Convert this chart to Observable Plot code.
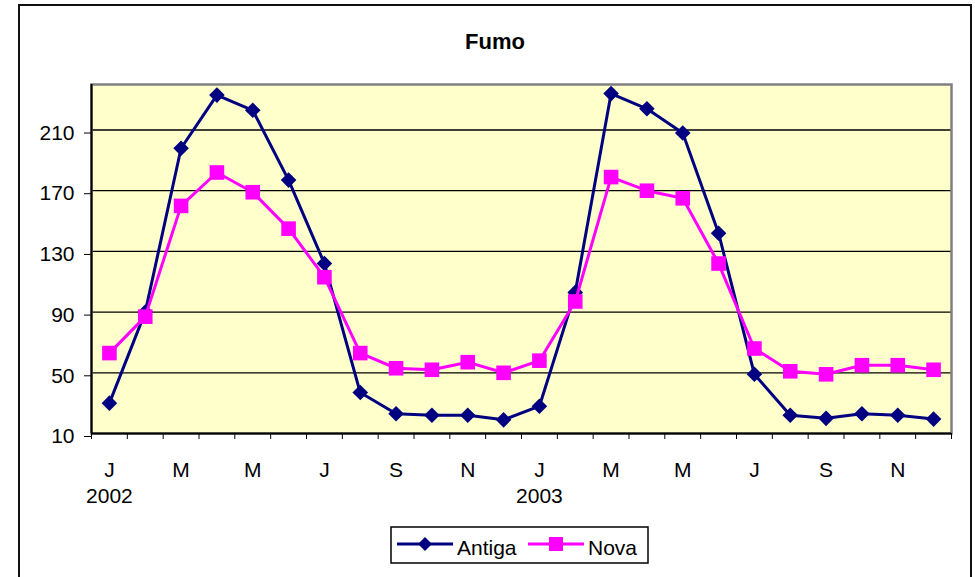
<!DOCTYPE html>
<html>
<head>
<meta charset="utf-8">
<script src="https://cdn.jsdelivr.net/npm/d3@7"></script>
<script src="https://cdn.jsdelivr.net/npm/@observablehq/plot@0.6"></script>
<style>
  html, body { margin: 0; padding: 0; background: #fff; }
  #wrap { position: relative; width: 975px; height: 577px; overflow: hidden; font-family: "Liberation Sans", Arial, sans-serif; }
  #wrap > svg { position: absolute; left: 0; top: 0; }
  #overlay { pointer-events: none; }
</style>
</head>
<body>
<div id="wrap"></div>
<script>
// ---- data ----
const title = "Fumo";
const monthLetters = ["J","F","M","A","M","J","J","A","S","O","N","D"];
const years = ["2002", "2003"];
const seriesNames = ["Antiga", "Nova"];
const seriesColors = ["#000080", "#FF00FF"];
const antiga = [30, 90, 198, 233, 223, 177, 122, 37, 23, 22, 22, 19,
                28, 103, 234, 224, 208, 142, 49, 22, 20, 23, 22, 19.5];
const nova   = [63, 87, 160, 182, 169, 145, 113, 63, 53, 52, 57, 50,
                58, 97, 179, 170, 165, 122, 66, 51, 49, 55, 55, 52];
const yTicks = [10, 50, 90, 130, 170, 210];

// ---- derived ----
const nMonths = antiga.length;
const idx = d3.range(nMonths);
const rowsA = antiga.map((v, i) => ({i, v}));
const rowsN = nova.map((v, i) => ({i, v}));
const boundaries = d3.range(nMonths + 1).map(k => k - 0.5);
const labelIdx = idx.filter(i => i % 2 === 0);
const yearIdx = idx.filter(i => i % 12 === 0);

const diamondSym = {draw(ctx, size) { const r = Math.sqrt(size / Math.PI);
  ctx.moveTo(0, -r); ctx.lineTo(r, 0); ctx.lineTo(0, r); ctx.lineTo(-r, 0); ctx.closePath(); }};
const squareSym = {draw(ctx, size) { const r = Math.sqrt(size / Math.PI);
  ctx.rect(-r, -r, 2 * r, 2 * r); }};

const chart = Plot.plot({
  width: 975,
  height: 577,
  marginLeft: 91,
  marginRight: 24,
  marginTop: 84,
  marginBottom: 144,
  style: {fontFamily: "'Liberation Sans', Arial, sans-serif", fontSize: "21px", color: "black", background: "transparent", overflow: "visible"},
  x: {type: "linear", domain: [-0.5, nMonths - 0.5], axis: null, label: null},
  y: {domain: [10, 240], axis: null, label: null},
  marks: [
    Plot.frame({fill: "#FFFFCC"}),
    Plot.gridY(yTicks.slice(1), {stroke: "black", strokeOpacity: 1, strokeWidth: 1.3}),
    Plot.frame({stroke: "#808080", strokeWidth: 2.5}),
    Plot.ruleX([-0.5], {stroke: "black", strokeWidth: 2}),
    Plot.ruleY([10], {stroke: "black", strokeWidth: 2}),
    Plot.axisY({ticks: yTicks, tickSize: 7, tickPadding: 10, dy: 3, label: null}),
    Plot.axisX({ticks: boundaries, tickSize: 6, tickFormat: () => "", label: null}),
    Plot.axisX({ticks: labelIdx, tickSize: 0, tickPadding: 29, tickFormat: i => monthLetters[i % 12], label: null}),
    Plot.axisX({ticks: yearIdx, tickSize: 0, tickPadding: 55, tickFormat: i => years[Math.floor(i / 12)], label: null}),
    Plot.line(rowsA, {x: "i", y: "v", stroke: seriesColors[0], strokeWidth: 3}),
    Plot.dot(rowsA, {x: "i", y: "v", symbol: diamondSym, r: 7.8, fill: seriesColors[0], stroke: "none"}),
    Plot.line(rowsN, {x: "i", y: "v", stroke: seriesColors[1], strokeWidth: 3}),
    Plot.dot(rowsN, {x: "i", y: "v", symbol: squareSym, r: 7.3, fill: seriesColors[1], stroke: "none"})
  ]
});
const wrap = document.getElementById("wrap");
wrap.appendChild(chart);

// ---- overlay: chart border, title, legend ----
const ov = d3.select(wrap).append("svg").attr("id", "overlay")
  .attr("width", 975).attr("height", 577)
  .style("font-family", "'Liberation Sans', Arial, sans-serif");
ov.append("rect").attr("x", 19).attr("y", 5).attr("width", 952).attr("height", 590)
  .attr("fill", "none").attr("stroke", "#111").attr("stroke-width", 2);
ov.append("text").attr("x", 495).attr("y", 49).attr("text-anchor", "middle")
  .attr("font-weight", "bold").attr("font-size", 22).text(title);

const lg = ov.append("g").attr("transform", "translate(391,527)");
lg.append("rect").attr("width", 257).attr("height", 36).attr("fill", "white")
  .attr("stroke", "black").attr("stroke-width", 1.5);
const items = [{x0: 6, name: seriesNames[0], color: seriesColors[0], sym: "diamond"},
               {x0: 137, name: seriesNames[1], color: seriesColors[1], sym: "square"}];
items.forEach(it => {
  const g = lg.append("g").attr("transform", `translate(${it.x0},0)`);
  g.append("line").attr("x1", 0).attr("x2", 56).attr("y1", 17).attr("y2", 17)
    .attr("stroke", it.color).attr("stroke-width", 3);
  if (it.sym === "diamond") {
    g.append("path").attr("d", "M28,10L35,17L28,24L21,17Z").attr("fill", it.color);
  } else {
    g.append("rect").attr("x", 21).attr("y", 10).attr("width", 14).attr("height", 14).attr("fill", it.color);
  }
  g.append("text").attr("x", 60).attr("y", 28).attr("font-size", 21).text(it.name);
});
</script>
</body>
</html>
